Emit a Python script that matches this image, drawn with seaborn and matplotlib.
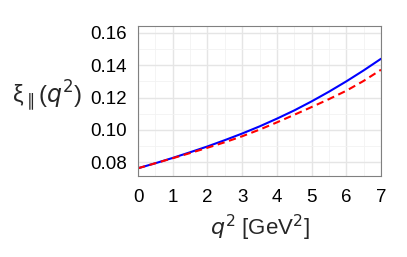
import numpy as np
import pandas as pd
import matplotlib
matplotlib.use("Agg")
import matplotlib.pyplot as plt
import seaborn as sns
from matplotlib.ticker import MultipleLocator

# values
q2 = [0, 0.5, 1, 1.5, 2, 2.5, 3, 3.5, 4, 4.5, 5, 5.5, 6, 6.5, 7]
xi_blue = [0.0762, 0.0793, 0.0826, 0.0861, 0.0897, 0.0936, 0.0977, 0.1021,
           0.1069, 0.1120, 0.1176, 0.1236, 0.1300, 0.1368, 0.1440]
xi_red = [0.0762, 0.0793, 0.0824, 0.0856, 0.0889, 0.0923, 0.0960, 0.1001,
          0.1046, 0.1093, 0.1141, 0.1190, 0.1242, 0.1303, 0.1372]

df = pd.DataFrame({'q2': q2 * 2,
                   'xi': xi_blue + xi_red,
                   'curve': ['blue'] * len(q2) + ['red'] * len(q2)})

sns.set_style('white')
plt.rcParams['font.family'] = ['Liberation Sans', 'DejaVu Sans']
plt.rcParams['mathtext.fontset'] = 'dejavusans'

fig = plt.figure(figsize=(4.07, 2.57), dpi=100)
ax = fig.add_axes([138 / 407, 1 - 176 / 257, 243 / 407, 150 / 257])

sns.lineplot(data=df, x='q2', y='xi', hue='curve', style='curve',
             palette={'blue': '#0000ff', 'red': '#ff0000'},
             dashes={'blue': '', 'red': (3.5, 2.2)},
             linewidth=1.5, legend=False, ax=ax)

ax.set_xlim(0, 7)
ax.set_ylim(0.0714, 0.1643)
ax.xaxis.set_major_locator(MultipleLocator(1))
ax.xaxis.set_minor_locator(MultipleLocator(0.5))
ax.yaxis.set_major_locator(MultipleLocator(0.02))
ax.yaxis.set_minor_locator(MultipleLocator(0.01))
ax.yaxis.set_major_formatter(plt.FormatStrFormatter('%.2f'))

ax.grid(which='major', color='#e5e5e5', linewidth=1.0)
ax.grid(which='minor', color='#f2f2f2', linewidth=0.6)
ax.set_axisbelow(True)
for s in ax.spines.values():
    s.set_color('#808080')
    s.set_linewidth(0.8)

ax.tick_params(which='major', direction='out', length=4.5, width=1,
               color='#333333', labelsize=13.5, labelcolor='black')
ax.tick_params(axis='x', pad=4.5)
ax.tick_params(axis='y', pad=3.5)
ax.tick_params(which='minor', length=0)

ax.set_xlabel(r'$q^2$ [GeV$^2$]', fontsize=16, labelpad=5)
ax.set_ylabel(r'ξ$_{\parallel}$($q^2$)', fontsize=17, rotation=0,
              ha='right', va='center')
ax.yaxis.set_label_coords(-0.23, 0.53)

fig.savefig('out.png', dpi=100)
